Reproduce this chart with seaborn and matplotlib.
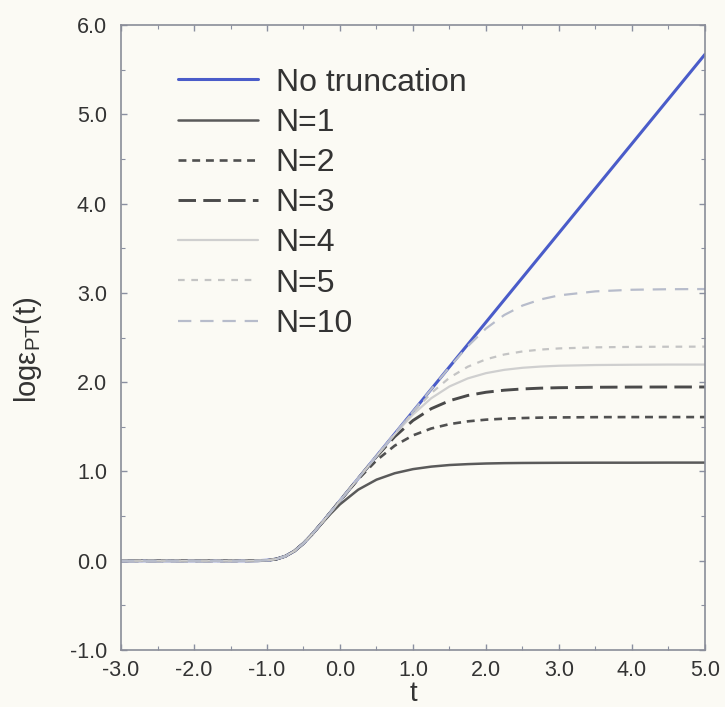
import numpy as np
import pandas as pd
import matplotlib
matplotlib.use("Agg")
import matplotlib.pyplot as plt
import seaborn as sns

# ---- data ----
t = [-3.0, -2.5, -2.0, -1.5, -1.25, -1.125, -1.0, -0.875, -0.75, -0.625, -0.5,
     -0.375, -0.25, -0.125, 0.0, 0.25, 0.5, 0.75, 1.0, 1.25, 1.5, 1.75, 2.0,
     2.25, 2.5, 2.75, 3.0, 3.5, 4.0, 4.5, 5.0]

no_trunc = [0.0, 0.0, 0.0, 0.0, 0.0, 0.001, 0.005, 0.018, 0.050, 0.108, 0.195,
            0.303, 0.423, 0.547, 0.672, 0.922, 1.172, 1.422, 1.672, 1.922, 2.172,
            2.422, 2.672, 2.922, 3.172, 3.422, 3.672, 4.172, 4.672, 5.172, 5.672]
n1 = [0.0, 0.0, 0.0, 0.0, 0.0, 0.001, 0.005, 0.018, 0.050, 0.108, 0.195,
      0.302, 0.417, 0.529, 0.632, 0.796, 0.908, 0.980, 1.026, 1.054, 1.072,
      1.082, 1.089, 1.093, 1.095, 1.096, 1.097, 1.098, 1.098, 1.099, 1.099]
n2 = [0.0, 0.0, 0.0, 0.0, 0.0, 0.001, 0.005, 0.018, 0.050, 0.108, 0.195,
      0.303, 0.423, 0.547, 0.671, 0.912, 1.124, 1.289, 1.404, 1.481, 1.530,
      1.561, 1.580, 1.591, 1.598, 1.603, 1.605, 1.608, 1.609, 1.609, 1.609]
n3 = [0.0, 0.0, 0.0, 0.0, 0.0, 0.001, 0.005, 0.018, 0.050, 0.108, 0.195,
      0.303, 0.423, 0.547, 0.672, 0.921, 1.166, 1.390, 1.571, 1.703, 1.792,
      1.851, 1.887, 1.910, 1.924, 1.933, 1.938, 1.943, 1.945, 1.946, 1.946]
n4 = [0.0, 0.0, 0.0, 0.0, 0.0, 0.001, 0.005, 0.018, 0.050, 0.108, 0.195,
      0.303, 0.423, 0.547, 0.672, 0.922, 1.171, 1.416, 1.639, 1.820, 1.952,
      2.042, 2.101, 2.138, 2.161, 2.175, 2.184, 2.192, 2.195, 2.197, 2.197]
n5 = [0.0, 0.0, 0.0, 0.0, 0.0, 0.001, 0.005, 0.018, 0.050, 0.108, 0.195,
      0.303, 0.423, 0.547, 0.672, 0.922, 1.172, 1.421, 1.663, 1.878, 2.050,
      2.173, 2.256, 2.310, 2.344, 2.365, 2.378, 2.390, 2.395, 2.397, 2.398]
n10 = [0.0, 0.0, 0.0, 0.0, 0.0, 0.001, 0.005, 0.018, 0.050, 0.108, 0.195,
       0.303, 0.423, 0.547, 0.672, 0.922, 1.172, 1.422, 1.672, 1.921, 2.169,
       2.402, 2.601, 2.752, 2.858, 2.927, 2.972, 3.017, 3.035, 3.041, 3.043]

labels = ["No truncation", "N=1", "N=2", "N=3", "N=4", "N=5", "N=10"]
x_ticks = [-3.0, -2.0, -1.0, 0.0, 1.0, 2.0, 3.0, 4.0, 5.0]
y_ticks = [-1.0, 0.0, 1.0, 2.0, 3.0, 4.0, 5.0, 6.0]

series = [no_trunc, n1, n2, n3, n4, n5, n10]
styles = [
    dict(color="#4a5cc9", linestyle="-", linewidth=2.2),
    dict(color="#5a5a5a", linestyle="-", linewidth=1.8),
    dict(color="#505050", linestyle=(0, (3.0, 2.2)), linewidth=1.9),
    dict(color="#4a4a4a", linestyle=(0, (6.0, 2.5)), linewidth=2.1),
    dict(color="#cfcfcf", linestyle="-", linewidth=1.6),
    dict(color="#c4c4c4", linestyle=(0, (3.0, 3.0)), linewidth=1.6),
    dict(color="#b7bccb", linestyle=(0, (6.0, 4.0)), linewidth=1.6),
]

sns.set_theme(style="ticks")
bg = "#fbfaf4"
plt.rcParams["font.family"] = ["Liberation Sans", "DejaVu Sans"]
plt.rcParams["mathtext.fontset"] = "custom"
plt.rcParams["mathtext.rm"] = "Liberation Sans"
plt.rcParams["mathtext.it"] = "Liberation Sans:italic"

fig = plt.figure(figsize=(7.25, 7.07), dpi=100, facecolor=bg)
ax = fig.add_axes([0.1669, 0.0806, 0.8055, 0.884])
ax.set_facecolor(bg)

for vals, lab, st in zip(series, labels, styles):
    sns.lineplot(x=t, y=vals, ax=ax, label=lab, **st)

ax.set_xlim(-3.0, 5.0)
ax.set_ylim(-1.0, 6.0)
ax.set_xticks(x_ticks)
ax.set_yticks(y_ticks)
ax.set_xticklabels([f"{v:.1f}" for v in x_ticks])
ax.set_yticklabels([f"{v:.1f}" for v in y_ticks])
ax.set_xticks(np.arange(-2.5, 5.0, 1.0), minor=True)
ax.set_yticks(np.arange(-0.5, 6.0, 1.0), minor=True)
ax.tick_params(which="both", direction="in", top=True, right=True,
               color="#8a8fa0", labelcolor="#333333", labelsize=15.5)
ax.tick_params(which="major", length=4, width=1)
ax.tick_params(which="minor", length=3, width=0.8)
ax.tick_params(axis="x", which="major", pad=7)
ax.tick_params(axis="y", which="major", pad=10)
for s in ax.spines.values():
    s.set_color("#8a8d98")
    s.set_linewidth(1.2)

ax.set_xlabel("t", fontsize=20, color="#333333", labelpad=0)
ax.set_ylabel(r"logε$_{\mathrm{PT}}$(t)", fontsize=21, color="#333333")
ax.yaxis.set_label_coords(-0.132, 0.48)

leg = ax.legend(loc="upper left", bbox_to_anchor=(0.098, 0.932), frameon=False,
                fontsize=23, handlelength=2.5, handletextpad=0.55,
                labelspacing=0.32, borderpad=0, borderaxespad=0)
for txt in leg.get_texts():
    txt.set_color("#333333")

fig.savefig("out.png", dpi=100, facecolor=bg)
